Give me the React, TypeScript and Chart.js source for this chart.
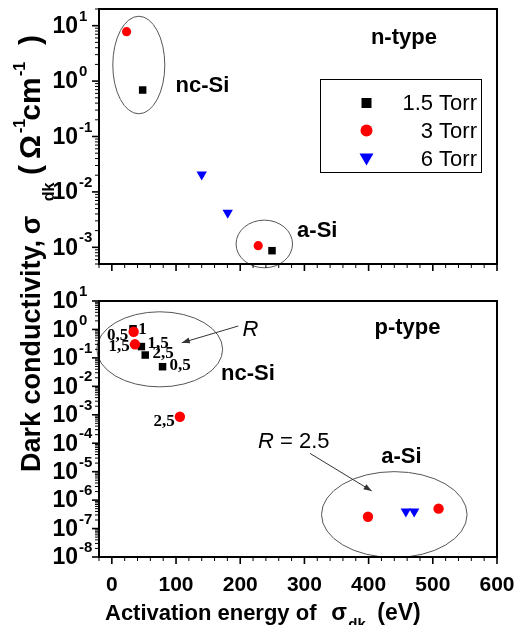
import { useEffect, useRef } from 'react';
import { Chart, registerables } from 'chart.js';

Chart.register(...registerables);

const W = 514;
const H = 625;
const SANS = '"Liberation Sans", Arial, Helvetica, sans-serif';
const SERIF = '"Liberation Serif", "Times New Roman", serif';

// ---------- data ----------
const seriesLabels = ['1.5 Torr', '3 Torr', '6 Torr'];
const seriesColors = ['#000000', '#ff0000', '#0000ff'];

// n-type (top panel): activation energy (x) and dark conductivity (y)
const nEa15 = [48, 249.5];
const nSig15 = [0.69, 8.7e-4];
const nEa3 = [23, 228];
const nSig3 = [7.8, 1.07e-3];
const nEa6 = [140, 180.5];
const nSig6 = [0.0206, 0.0042];

// p-type (bottom panel)
const pEa15 = [33, 46, 52, 79];
const pSig15 = [1.06, 0.25, 0.126, 0.049];
const pEa3 = [34, 36, 106, 399, 509];
const pSig3 = [0.83, 0.3, 8.5e-4, 2.6e-7, 5.0e-7];
const pEa6 = [458, 471];
const pSig6 = [4.0e-7, 4.0e-7];

// R labels next to p-type points (text, x, y in data units)
const rLabelText = ['0,5', '1', '1,5', '1,5', '2,5', '0,5', '2,5'];
const rLabelX = [8.9, 47.8, 11.2, 72, 79.8, 106.2, 81.6];
const rLabelY = [0.587, 0.955, 0.241, 0.308, 0.137, 0.052, 5.6e-4];

// axes
const xMin = -20;
const xMax = 600;
const xMajorStep = 100;
const xMinorStep = 20;
const topYMin = 5e-4;
const topYMax = 20;
const botYMin = 1e-8;
const botYMax = 10;

// ---------- layout (pixels) ----------
const AREA_LEFT = 99;
const AREA_RIGHT = 497;
const TOP_AREA = { top: 9, bottom: 264 };
const BOT_AREA = { top: 301, bottom: 557 };

type Ell = { x: number; y: number; rx: number; ryDec: number };
type Txt = { text: string; x: number; y: number; font: string; align?: CanvasTextAlign };
type Arrow = { x1: number; y1: number; x2: number; y2: number };

type Panel = {
  area: { top: number; bottom: number };
  yMin: number;
  yMax: number;
  datasets: any[];
  ellipses: Ell[];
  texts: Txt[];
  arrows: Arrow[];
  xLabels: boolean;
  legend: boolean;
  titles: boolean;
  rText?: { text: string; x: number; y: number };
};

function pts(xs: number[], ys: number[]) {
  return xs.map((x, i) => ({ x, y: ys[i] }));
}

function makeDatasets(e15: number[], s15: number[], e3: number[], s3: number[], e6: number[], s6: number[], big: boolean) {
  return [
    {
      label: seriesLabels[0],
      data: pts(e15, s15),
      pointStyle: 'rect',
      pointRadius: 5.3,
      pointBackgroundColor: seriesColors[0],
      pointBorderColor: seriesColors[0],
      pointBorderWidth: 0,
      order: 1,
    },
    {
      label: seriesLabels[1],
      data: pts(e3, s3),
      pointStyle: 'circle',
      pointRadius: big ? 5.2 : 4.6,
      pointBackgroundColor: seriesColors[1],
      pointBorderColor: seriesColors[1],
      pointBorderWidth: 0,
      order: 0,
    },
    {
      label: seriesLabels[2],
      data: pts(e6, s6),
      pointStyle: 'triangle',
      pointRotation: 180,
      pointRadius: 6,
      pointBackgroundColor: seriesColors[2],
      pointBorderColor: seriesColors[2],
      pointBorderWidth: 0,
      order: 2,
    },
  ];
}

function logTicks(min: number, max: number) {
  const out: { value: number; major: boolean }[] = [];
  const e0 = Math.floor(Math.log10(min));
  const e1 = Math.ceil(Math.log10(max));
  for (let e = e0; e <= e1; e++) {
    for (let m = 1; m < 10; m++) {
      const v = m * Math.pow(10, e);
      if (v >= min * 0.9999 && v <= max * 1.0001) out.push({ value: v, major: m === 1 });
    }
  }
  return out;
}

function linTicks() {
  const out: { value: number; major: boolean }[] = [];
  for (let v = xMin; v <= xMax + 1e-9; v += xMinorStep) {
    out.push({ value: v, major: Math.abs(v % xMajorStep) < 1e-9 });
  }
  return out;
}

function drawMarker(ctx: CanvasRenderingContext2D, style: string, x: number, y: number, color: string) {
  ctx.fillStyle = color;
  ctx.beginPath();
  if (style === 'rect') {
    ctx.rect(x - 5, y - 5, 10, 10);
  } else if (style === 'circle') {
    ctx.arc(x, y, 6, 0, Math.PI * 2);
  } else {
    ctx.moveTo(x - 7, y - 5.5);
    ctx.lineTo(x + 7, y - 5.5);
    ctx.lineTo(x, y + 6.5);
    ctx.closePath();
  }
  ctx.fill();
}

function drawYTitle(ctx: CanvasRenderingContext2D) {
  const bx = 40;
  ctx.save();
  ctx.translate(bx, 0);
  ctx.rotate(-Math.PI / 2);
  ctx.fillStyle = '#000';
  ctx.textBaseline = 'alphabetic';
  const big = `bold 27px ${SANS}`;
  const big2 = `bold 30px ${SANS}`;
  const small = `bold 16px ${SANS}`;
  ctx.font = big;
  ctx.textAlign = 'left';
  ctx.fillText('Dark conductivity,', -472, 0);
  ctx.textAlign = 'center';
  const seg: [string, number, string, number][] = [
    ['σ', 225, big, 0],
    ['dk', 192, small, 14],
    ['(', 170, big2, 0],
    ['Ω', 147, big2, 0],
    ['-1', 126, small, -15],
    ['cm', 99, big2, 0],
    ['-1', 69, small, -15],
    [')', 40, big2, 0],
  ];
  for (const [t, c, f, dy] of seg) {
    ctx.font = f;
    ctx.fillText(t, -c, dy);
  }
  ctx.restore();
}

function drawXTitle(ctx: CanvasRenderingContext2D) {
  ctx.save();
  ctx.fillStyle = '#000';
  ctx.textBaseline = 'alphabetic';
  ctx.font = `bold 22px ${SANS}`;
  ctx.textAlign = 'left';
  ctx.fillText('Activation energy of', 105, 620);
  ctx.textAlign = 'center';
  ctx.font = `bold 23px ${SANS}`;
  ctx.fillText('σ', 339, 620);
  ctx.font = `bold 15px ${SANS}`;
  ctx.fillText('dk', 357, 629);
  ctx.font = `bold 23px ${SANS}`;
  ctx.fillText('(eV)', 399, 620);
  ctx.restore();
}

function panelPlugin(p: Panel) {
  return {
    id: 'panelDecor',
    beforeDatasetsDraw(chart: any) {
      const ctx: CanvasRenderingContext2D = chart.ctx;
      const xs = chart.scales.x;
      const ys = chart.scales.y;
      ctx.save();
      ctx.strokeStyle = '#555';
      ctx.lineWidth = 1;
      for (const e of p.ellipses) {
        const cx = xs.getPixelForValue(e.x);
        const cy = ys.getPixelForValue(e.y);
        const rx = xs.getPixelForValue(e.x + e.rx) - cx;
        const ry = cy - ys.getPixelForValue(e.y * Math.pow(10, e.ryDec));
        ctx.beginPath();
        ctx.ellipse(cx, cy, rx, ry, 0, 0, Math.PI * 2);
        ctx.stroke();
      }
      ctx.restore();
    },
    afterDraw(chart: any) {
      const ctx: CanvasRenderingContext2D = chart.ctx;
      const xs = chart.scales.x;
      const ys = chart.scales.y;
      const { left, right, top, bottom } = chart.chartArea;
      ctx.save();
      // frame
      ctx.strokeStyle = '#000';
      ctx.lineWidth = 2;
      ctx.strokeRect(left, top, right - left, bottom - top);
      // y ticks
      for (const t of ys.ticks) {
        const y = ys.getPixelForValue(t.value);
        const len = t.major ? 7 : 4;
        ctx.lineWidth = t.major ? 1.6 : 1;
        ctx.beginPath();
        ctx.moveTo(left - len, y);
        ctx.lineTo(left, y);
        ctx.stroke();
        if (t.major) {
          const e = Math.round(Math.log10(t.value));
          ctx.fillStyle = '#000';
          ctx.textBaseline = 'middle';
          ctx.textAlign = 'right';
          ctx.font = `bold 23px ${SANS}`;
          ctx.fillText('10', 78, y + 1);
          ctx.textAlign = 'left';
          ctx.font = `bold 15px ${SANS}`;
          ctx.fillText(String(e), 79, y - 9);
        }
      }
      // x ticks
      for (const t of xs.ticks) {
        const x = xs.getPixelForValue(t.value);
        const len = t.major ? 7 : 4;
        ctx.lineWidth = t.major ? 1.6 : 1;
        ctx.beginPath();
        ctx.moveTo(x, bottom);
        ctx.lineTo(x, bottom + len);
        ctx.stroke();
        if (p.xLabels && t.major) {
          ctx.fillStyle = '#000';
          ctx.textBaseline = 'middle';
          ctx.textAlign = 'center';
          ctx.font = `bold 21px ${SANS}`;
          ctx.fillText(String(t.value), x, 585);
        }
      }
      // arrows
      ctx.strokeStyle = '#333';
      ctx.fillStyle = '#333';
      ctx.lineWidth = 1;
      for (const a of p.arrows) {
        const x1 = xs.getPixelForValue(a.x1);
        const y1 = ys.getPixelForValue(a.y1);
        const x2 = xs.getPixelForValue(a.x2);
        const y2 = ys.getPixelForValue(a.y2);
        ctx.beginPath();
        ctx.moveTo(x1, y1);
        ctx.lineTo(x2, y2);
        ctx.stroke();
        const ang = Math.atan2(y2 - y1, x2 - x1);
        const L = 8;
        const Wd = 3;
        ctx.beginPath();
        ctx.moveTo(x2, y2);
        ctx.lineTo(x2 - L * Math.cos(ang) + Wd * Math.sin(ang), y2 - L * Math.sin(ang) - Wd * Math.cos(ang));
        ctx.lineTo(x2 - L * Math.cos(ang) - Wd * Math.sin(ang), y2 - L * Math.sin(ang) + Wd * Math.cos(ang));
        ctx.closePath();
        ctx.fill();
      }
      // texts
      ctx.fillStyle = '#000';
      ctx.textBaseline = 'middle';
      for (const t of p.texts) {
        ctx.font = t.font;
        ctx.textAlign = t.align || 'center';
        ctx.fillText(t.text, xs.getPixelForValue(t.x), ys.getPixelForValue(t.y));
      }
      if (p.rText) {
        const x0 = xs.getPixelForValue(p.rText.x);
        const y0 = ys.getPixelForValue(p.rText.y);
        ctx.textAlign = 'left';
        ctx.font = `italic 22px ${SANS}`;
        ctx.fillText('R', x0, y0);
        const w = ctx.measureText('R').width;
        ctx.font = `22px ${SANS}`;
        ctx.fillText(p.rText.text, x0 + w, y0);
      }
      // legend
      if (p.legend) {
        const bx = right - 16 - 161;
        const by = top + 70;
        ctx.strokeStyle = '#000';
        ctx.lineWidth = 1;
        ctx.strokeRect(bx + 0.5, by + 0.5, 161, 93);
        const rows = [24, 51.5, 80];
        chart.data.datasets.forEach((ds: any, i: number) => {
          const ry = by + rows[i];
          drawMarker(ctx, ds.pointStyle, bx + 46.5, ry, ds.pointBackgroundColor);
          ctx.fillStyle = '#000';
          ctx.font = `22px ${SANS}`;
          ctx.textAlign = 'right';
          ctx.textBaseline = 'middle';
          ctx.fillText(ds.label, bx + 157, ry + 1);
        });
      }
      if (p.titles) {
        drawYTitle(ctx);
        drawXTitle(ctx);
      }
      ctx.restore();
    },
  };
}

function buildChart(canvas: HTMLCanvasElement, p: Panel) {
  return new Chart(canvas, {
    type: 'scatter',
    data: { datasets: p.datasets },
    options: {
      animation: false,
      responsive: false,
      events: [],
      layout: { padding: { left: 0, right: W - AREA_RIGHT, top: p.area.top, bottom: 0 } },
      plugins: { legend: { display: false }, tooltip: { enabled: false } },
      scales: {
        x: {
          type: 'linear',
          min: xMin,
          max: xMax,
          grid: { display: false },
          border: { display: false },
          ticks: { display: false },
          afterBuildTicks: (s: any) => {
            s.ticks = linTicks();
          },
          afterFit: (s: any) => {
            s.height = H - p.area.bottom;
          },
        },
        y: {
          type: 'logarithmic',
          min: p.yMin,
          max: p.yMax,
          grid: { display: false },
          border: { display: false },
          ticks: { display: false },
          afterBuildTicks: (s: any) => {
            s.ticks = logTicks(p.yMin, p.yMax);
          },
          afterFit: (s: any) => {
            s.width = AREA_LEFT;
          },
        },
      },
    } as any,
    plugins: [panelPlugin(p) as any],
  });
}

const bold22 = `bold 22px ${SANS}`;
const serif16 = `bold 17px ${SERIF}`;

export default function App() {
  const topRef = useRef<HTMLCanvasElement | null>(null);
  const botRef = useRef<HTMLCanvasElement | null>(null);

  useEffect(() => {
    const topPanel: Panel = {
      area: TOP_AREA,
      yMin: topYMin,
      yMax: topYMax,
      datasets: makeDatasets(nEa15, nSig15, nEa3, nSig3, nEa6, nSig6, false),
      ellipses: [
        { x: 42, y: 1.95, rx: 40.5, ryDec: 0.88 },
        { x: 237.5, y: 1.15e-3, rx: 44, ryDec: 0.43 },
      ],
      texts: [
        { text: 'n-type', x: 455, y: 6.0, font: bold22 },
        { text: 'nc-Si', x: 141, y: 0.82, font: bold22 },
        { text: 'a-Si', x: 320, y: 2.0e-3, font: bold22 },
      ],
      arrows: [],
      xLabels: false,
      legend: true,
      titles: false,
    };
    const botPanel: Panel = {
      area: BOT_AREA,
      yMin: botYMin,
      yMax: botYMax,
      datasets: makeDatasets(pEa15, pSig15, pEa3, pSig3, pEa6, pSig6, true),
      ellipses: [
        { x: 74.6, y: 0.2, rx: 98, ryDec: 1.32 },
        { x: 440, y: 3.1e-7, rx: 113.4, ryDec: 1.51 },
      ],
      texts: [
        { text: 'p-type', x: 460.6, y: 1.12, font: bold22 },
        { text: 'nc-Si', x: 212, y: 0.027, font: bold22 },
        { text: 'a-Si', x: 451, y: 3.4e-5, font: bold22 },
        { text: 'R', x: 216, y: 0.95, font: `italic 22px ${SANS}` },
        ...rLabelText.map((t, i) => ({ text: t, x: rLabelX[i], y: rLabelY[i], font: serif16 })),
      ],
      arrows: [
        { x1: 197, y1: 1.32, x2: 109, y2: 0.34 },
        { x1: 308.7, y1: 4.4e-5, x2: 404.8, y2: 2.1e-6 },
      ],
      rText: { text: ' = 2.5', x: 227.7, y: 1.1e-4 },
      xLabels: true,
      legend: false,
      titles: true,
    };
    const c1 = buildChart(botRef.current!, botPanel);
    const c2 = buildChart(topRef.current!, topPanel);
    return () => {
      c1.destroy();
      c2.destroy();
    };
  }, []);

  const cs: any = { position: 'absolute', left: 0, top: 0, width: W, height: H, display: 'block' };
  return (
    <div style={{ position: 'fixed', left: 0, top: 0, width: W, height: H, background: '#fff' }}>
      <canvas ref={botRef} width={W} height={H} style={cs} />
      <canvas ref={topRef} width={W} height={H} style={cs} />
    </div>
  );
}
